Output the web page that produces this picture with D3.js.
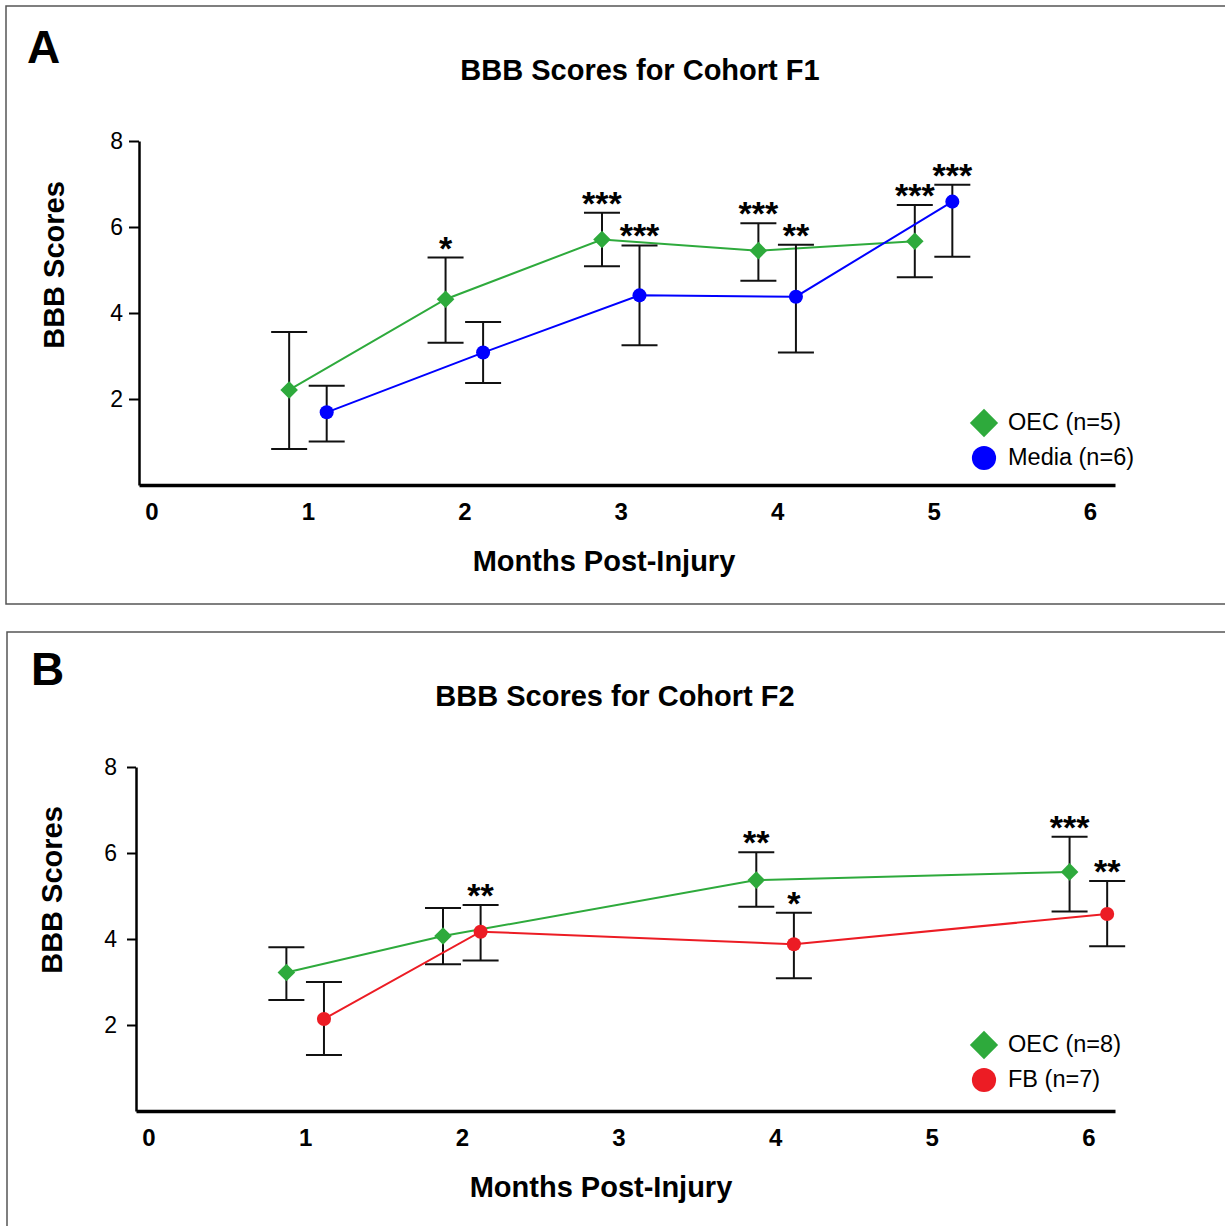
<!DOCTYPE html>
<html>
<head>
<meta charset="utf-8">
<script src="https://cdn.jsdelivr.net/npm/d3@7"></script>
<style>
  body { margin: 0; background: #fff; }
  text { font-family: Arial, "Liberation Sans", Helvetica, sans-serif; fill: #000; }
</style>
</head>
<body>
<div id="chart"></div>
<script>
// ---- data ----
// panel A (cohort F1)
let monthsA = [1, 2, 3, 4, 5];
let oecA = [2.21, 4.32, 5.71, 5.45, 5.67];
let oecA_lo = [0.84, 3.31, 5.09, 4.75, 4.83];
let oecA_hi = [3.56, 5.29, 6.33, 6.09, 6.51];
let mediaA = [1.69, 3.08, 4.41, 4.38, 6.59];
let mediaA_lo = [1.01, 2.37, 3.25, 3.08, 5.31];
let mediaA_hi = [2.31, 3.79, 5.57, 5.59, 6.98];
let starsOecA = ["", "*", "***", "***", "***"];
let starsMediaA = ["", "", "***", "**", "***"];

// panel B (cohort F2)
let monthsB = [1, 2, 4, 6];
let oecB = [3.22, 4.07, 5.37, 5.56];
let oecB_lo = [2.58, 3.41, 4.75, 4.64];
let oecB_hi = [3.81, 4.72, 6.02, 6.38];
let fbB = [2.14, 4.17, 3.88, 4.58];
let fbB_lo = [1.30, 3.50, 3.09, 3.83];
let fbB_hi = [3.00, 4.79, 4.61, 5.35];
let starsOecB = ["", "", "**", "***"];
let starsFbB = ["", "**", "*", "**"];

let xTicks = [0, 1, 2, 3, 4, 5, 6];
let yTicks = [2, 4, 6, 8];

let green = "#2eaa3c", blue = "#0000ff", red = "#ec1c24";

let svg = d3.select("#chart")
  .append("svg")
  .attr("width", 1225)
  .attr("height", 1226);

function makeSeries(months, mean, lo, hi, stars) {
  return months.map((m, i) => ({ m: m, v: mean[i], lo: lo[i], hi: hi[i], star: stars[i] }));
}

let panels = [
  {
    letter: "A", title: "BBB Scores for Cohort F1", top: 6, left: 6, boxH: 598,
    titleX: 640, titleY: 80, letterX: 27, letterY: 63,
    xRange: [139, 1115], xDomain: [-0.08, 6.16], yRange: [485, 141],
    yTickSize: 10, yPad: 6, xLabelY: 571, xLabelX: 604, yLabelX: 64, yLabelY: 265,
    legendY: 423,
    series: [
      { name: "OEC (n=5)", color: green, shape: "diamond", off: -0.12, data: makeSeries(monthsA, oecA, oecA_lo, oecA_hi, starsOecA) },
      { name: "Media (n=6)", color: blue, shape: "circle", off: 0.12, data: makeSeries(monthsA, mediaA, mediaA_lo, mediaA_hi, starsMediaA) }
    ]
  },
  {
    letter: "B", title: "BBB Scores for Cohort F2", top: 632, left: 7, boxH: 700,
    titleX: 615, titleY: 706, letterX: 31, letterY: 685,
    xRange: [136, 1115], xDomain: [-0.08, 6.17], yRange: [1111, 767],
    yTickSize: 9, yPad: 10, xLabelY: 1197, xLabelX: 601, yLabelX: 62, yLabelY: 890,
    legendY: 1045,
    series: [
      { name: "OEC (n=8)", color: green, shape: "diamond", off: -0.12, data: makeSeries(monthsB, oecB, oecB_lo, oecB_hi, starsOecB) },
      { name: "FB (n=7)", color: red, shape: "circle", off: 0.12, data: makeSeries(monthsB, fbB, fbB_lo, fbB_hi, starsFbB) }
    ]
  }
];

let diamond = d3.symbol().type(d3.symbolSquare);
let circle = d3.symbol().type(d3.symbolCircle);

function marker(sel, shape, small) {
  if (shape === "diamond") {
    sel.attr("d", diamond.size(small ? 155 : 400)())
  } else {
    sel.attr("d", circle.size(small ? 155 : 460)())
  }
}

panels.forEach(function (p) {
  let g = svg.append("g");

  // frame
  g.append("rect")
    .attr("x", p.left).attr("y", p.top)
    .attr("width", 1240).attr("height", p.boxH)
    .attr("fill", "none").attr("stroke", "#555").attr("stroke-width", 1.5);

  g.append("text")
    .attr("x", p.letterX).attr("y", p.letterY)
    .attr("font-size", 46).attr("font-weight", "bold")
    .text(p.letter);

  g.append("text")
    .attr("x", p.titleX).attr("y", p.titleY)
    .attr("text-anchor", "middle")
    .attr("font-size", 29).attr("font-weight", "bold")
    .text(p.title);

  let x = d3.scaleLinear().domain(p.xDomain).range(p.xRange);
  let y = d3.scaleLinear().domain([0, 8]).range(p.yRange);

  // y axis
  let yAx = g.append("g")
    .attr("transform", `translate(${p.xRange[0]},0)`)
    .call(d3.axisLeft(y).tickValues(yTicks).tickSize(p.yTickSize).tickSizeOuter(0).tickPadding(p.yPad));
  yAx.select(".domain").attr("stroke", "#000").attr("stroke-width", 2.5);
  yAx.selectAll(".tick line").attr("stroke", "#000").attr("stroke-width", 2);
  yAx.selectAll(".tick text").attr("font-size", 23).attr("font-family", null).attr("fill", "#000");

  // x axis
  let xAx = g.append("g")
    .attr("transform", `translate(0,${p.yRange[0]})`)
    .call(d3.axisBottom(x).tickValues(xTicks).tickFormat(d3.format("d"))
      .tickSize(0).tickSizeOuter(0).tickPadding(18));
  xAx.select(".domain").attr("stroke", "#000").attr("stroke-width", 3.5);
  xAx.selectAll(".tick text").attr("font-size", 24).attr("font-weight", "bold").attr("font-family", null).attr("fill", "#000");

  // axis titles
  g.append("text")
    .attr("x", p.xLabelX).attr("y", p.xLabelY)
    .attr("text-anchor", "middle")
    .attr("font-size", 29).attr("font-weight", "bold")
    .text("Months Post-Injury");

  g.append("text")
    .attr("transform", `translate(${p.yLabelX},${p.yLabelY}) rotate(-90)`)
    .attr("text-anchor", "middle")
    .attr("font-size", 29).attr("font-weight", "bold")
    .text("BBB Scores");

  let line = d3.line();

  p.series.forEach(function (s) {
    let px = d => x(d.m + s.off);

    g.append("path")
      .attr("d", line(s.data.map(d => [px(d), y(d.v)])))
      .attr("fill", "none")
      .attr("stroke", s.color)
      .attr("stroke-width", 2);

    let eb = g.append("g").attr("stroke", "#111").attr("stroke-width", 2);
    eb.selectAll(".stem").data(s.data).enter().append("line")
      .attr("x1", px).attr("x2", px)
      .attr("y1", d => y(d.lo)).attr("y2", d => y(d.hi));
    eb.selectAll(".capTop").data(s.data).enter().append("line")
      .attr("x1", d => px(d) - 18).attr("x2", d => px(d) + 18)
      .attr("y1", d => y(d.hi)).attr("y2", d => y(d.hi));
    eb.selectAll(".capBot").data(s.data).enter().append("line")
      .attr("x1", d => px(d) - 18).attr("x2", d => px(d) + 18)
      .attr("y1", d => y(d.lo)).attr("y2", d => y(d.lo));

    g.selectAll(null).data(s.data).enter().append("path")
      .attr("transform", d => `translate(${px(d)},${y(d.v)})` + (s.shape === "diamond" ? " rotate(45)" : ""))
      .call(marker, s.shape, true)
      .attr("fill", s.color);

    // significance stars
    g.selectAll(null).data(s.data.filter(d => d.star)).enter().append("text")
      .attr("x", px)
      .attr("y", d => y(d.hi) + 2)
      .attr("text-anchor", "middle")
      .attr("font-size", 34).attr("font-weight", "bold")
      .text(d => d.star);
  });

  // legend
  p.series.forEach(function (s, i) {
    let ly = p.legendY + i * 35;
    g.append("path")
      .attr("transform", `translate(${984},${ly})` + (s.shape === "diamond" ? " rotate(45)" : ""))
      .call(marker, s.shape, false)
      .attr("fill", s.color);
    g.append("text")
      .attr("x", 1008).attr("y", ly + 7)
      .attr("font-size", 23.5)
      .text(s.name);
  });
});
</script>
</body>
</html>
